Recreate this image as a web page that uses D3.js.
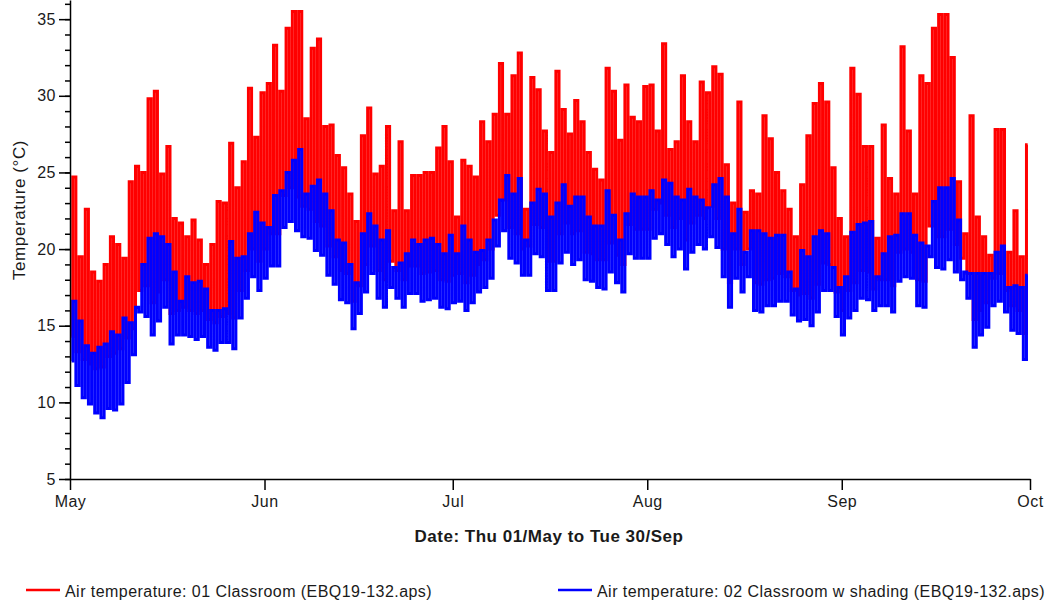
<!DOCTYPE html>
<html>
<head>
<meta charset="utf-8">
<script src="https://cdn.jsdelivr.net/npm/d3@7"></script>
<style>
  body { margin: 0; background: #fff; }
  svg { display: block; font-family: "Liberation Sans", Arial, sans-serif; }
  .axis text { font-size: 16px; fill: #1a1a1a; letter-spacing: 0.5px; }
  .axis path, .axis line { stroke: #000; stroke-width: 1.5; }
</style>
</head>
<body>
<svg id="chart" width="1049" height="602"></svg>
<script>
// daily extremes, 01/May .. 30/Sep (one value per day)
var redMax = [
  24.7,19.5,22.6,18.5,17.9,19.0,20.8,20.3,19.4,24.4,25.4,25.0,29.8,30.3,24.9,26.7,22.0,21.7,20.8,21.9,20.6,19.0,20.3,23.1,23.0,26.9,24.0,25.7,30.5,27.3,30.2,
  30.8,33.3,30.3,34.4,35.5,35.5,28.5,33.1,33.7,28.0,28.1,26.1,25.3,23.6,21.8,27.4,29.2,24.9,25.4,28.0,22.5,27.0,22.5,24.8,24.8,25.0,25.0,26.6,28.0,25.7,
  22.1,25.8,25.4,24.7,28.3,27.0,28.8,32.1,28.8,31.3,32.8,22.6,31.2,30.4,27.7,26.3,31.6,29.1,27.5,29.7,28.3,26.3,25.2,24.5,31.8,30.3,27.1,30.7,28.6,28.3,30.6,
  30.7,27.7,33.4,26.5,27.0,31.3,28.3,27.0,30.9,30.2,31.9,31.4,25.5,23.0,29.6,22.4,23.8,23.6,28.7,27.2,25.0,23.8,22.6,20.8,24.2,27.4,29.5,30.8,29.6,25.3,22.0,
  20.8,31.8,30.1,26.7,26.7,20.7,28.1,24.6,23.6,33.2,27.7,23.6,31.3,30.8,34.4,35.3,35.3,32.5,24.4,21.0,28.7,22.1,20.8,19.6,27.8,27.8,19.8,22.5,19.5,26.8
];
var redMin = [
  14.3,13.3,12.8,12.5,12.2,12.3,13.0,13.2,13.5,14.2,14.8,17.3,17.6,16.5,17.2,18.0,15.8,16.0,16.2,16.0,15.8,16.0,15.4,15.2,15.6,15.8,15.5,17.3,18.6,20.0,19.2,
  20.0,21.0,21.0,23.5,24.0,23.4,22.8,22.6,21.8,21.5,20.2,19.5,18.6,18.4,16.6,17.6,19.0,20.2,18.6,18.0,19.2,18.6,18.0,18.9,18.9,18.4,18.5,18.6,18.0,17.9,
  18.3,18.4,17.8,18.3,19.0,19.3,20.0,22.2,23.2,21.4,21.0,20.0,20.2,21.6,21.4,19.2,19.2,21.0,21.7,21.0,21.2,19.8,19.7,19.3,19.3,20.4,19.6,19.0,21.6,21.3,21.3,
  21.3,22.6,23.0,22.2,21.4,22.0,20.6,21.7,22.2,22.0,22.8,22.0,20.0,17.8,20.0,19.0,20.0,17.8,17.7,18.0,18.1,18.4,18.2,17.3,17.0,17.1,16.8,17.7,19.1,19.0,17.2,
  16.0,17.3,17.8,18.6,18.5,17.4,18.0,18.0,17.6,19.8,20.0,19.8,18.0,17.9,21.5,20.8,20.8,21.3,20.3,19.4,18.4,15.4,16.0,16.5,18.1,18.4,17.3,16.3,16.0,14.5
];
var blueMax = [
  16.6,15.3,13.7,13.2,13.6,13.8,14.6,14.4,15.5,15.2,16.2,19.0,20.7,21.0,20.8,20.3,18.5,16.6,18.2,17.8,17.9,17.4,16.0,16.0,16.1,20.5,19.4,19.5,21.0,22.4,21.7,
  21.4,23.5,23.8,25.0,25.8,26.5,23.6,24.1,24.5,23.6,22.5,20.6,20.4,19.0,17.8,21.0,22.3,21.5,20.6,21.2,18.8,19.1,19.7,20.6,20.3,20.6,20.7,20.3,19.7,20.9,
  19.7,21.5,20.6,19.8,19.9,20.6,21.9,23.2,24.8,23.6,24.6,20.6,23.0,23.9,23.6,22.1,23.0,24.2,22.8,23.4,23.4,22.1,21.5,21.5,23.8,22.2,20.6,22.3,23.6,23.4,23.4,
  23.8,23.2,24.5,24.3,23.4,23.2,23.9,23.4,23.2,22.7,24.2,24.6,23.4,21.0,22.6,19.8,21.2,21.2,21.0,20.7,20.9,20.9,18.5,17.4,19.9,19.5,20.8,21.2,21.0,18.8,17.5,
  18.2,21.1,21.6,21.7,21.8,18.2,19.7,20.8,20.9,22.3,22.3,20.9,20.4,20.2,23.1,24.0,24.0,24.6,21.9,18.5,18.4,18.4,18.4,18.4,19.8,20.2,17.5,17.6,17.5,18.3
];
var blueMin = [
  12.7,11.1,10.3,9.9,9.3,9.0,9.6,9.5,9.9,11.3,13.1,15.9,15.6,14.4,15.3,16.2,13.8,14.4,14.4,14.3,14.1,14.3,13.6,13.4,13.9,13.9,13.5,15.5,16.8,18.2,17.3,
  18.1,18.9,18.9,21.4,21.8,21.2,20.8,20.7,19.9,19.6,18.3,17.7,16.7,16.5,14.8,15.8,17.2,18.4,16.8,16.2,17.5,16.8,16.2,17.1,17.1,16.6,16.7,16.8,16.2,16.1,
  16.5,16.6,16.0,16.5,17.2,17.5,18.1,20.2,21.2,19.4,19.1,18.3,18.3,19.7,19.5,17.3,17.3,19.1,19.8,19.0,19.3,18.0,17.9,17.5,17.4,18.5,17.8,17.2,19.7,19.4,19.4,
  19.4,20.7,21.0,20.3,19.5,20.0,18.7,19.8,20.3,20.0,20.8,20.1,18.2,16.2,18.1,17.2,18.2,16.0,15.9,16.3,16.3,16.6,16.6,15.7,15.3,15.4,15.0,15.9,17.3,17.3,15.6,
  14.4,15.5,16.0,16.8,16.7,16.0,16.3,16.3,15.9,17.9,18.2,18.1,16.3,16.2,19.5,18.8,18.7,19.3,18.5,18.0,16.8,13.6,14.4,14.9,16.3,16.6,15.9,14.7,14.5,12.8
];
var majorTicks = [5, 10, 15, 20, 25, 30, 35];
var seriesNames = ["Air temperature: 01 Classroom (EBQ19-132.aps)", "Air temperature: 02 Classroom w shading (EBQ19-132.aps)"];
var seriesColors = ["#ff0000", "#0000ff"];

var HOUR = 3600000, DAY = 86400000;
var start = Date.UTC(2014, 4, 1), end = Date.UTC(2014, 9, 1);

var svg = d3.select("#chart");

var x = d3.scaleUtc().domain([start, end]).range([70, 1030]);
var y = d3.scaleLinear().domain([5, 36.25]).range([479, 0]);

// each day: low in the early morning, peak mid afternoon
function dailyPoints(mins, maxs) {
  var pts = [];
  for (var i = 0; i < mins.length; i++) {
    pts.push({t: start + i*DAY + 6*HOUR, v: mins[i]});
    pts.push({t: start + i*DAY + 15*HOUR, v: maxs[i]});
  }
  return pts;
}

// hourly values squeezed into ~6px per day read as steps
var line = d3.line()
  .curve(d3.curveStep)
  .x(function(d){ return x(d.t); })
  .y(function(d){ return y(d.v); });

svg.append("path")
  .datum(dailyPoints(redMin, redMax))
  .attr("d", line)
  .attr("fill", "none")
  .attr("stroke", seriesColors[0])
  .attr("stroke-width", 3);

svg.append("path")
  .datum(dailyPoints(blueMin, blueMax))
  .attr("d", line)
  .attr("fill", "none")
  .attr("stroke", seriesColors[1])
  .attr("stroke-width", 3);

// y axis: minor ticks each degree, labelled ticks each 5
svg.append("g")
  .attr("class", "axis")
  .attr("transform", "translate(70,0)")
  .call(d3.axisLeft(y).tickValues(d3.range(5, 37)).tickSize(5).tickSizeOuter(0).tickFormat(""));

svg.append("g")
  .attr("class", "axis")
  .attr("transform", "translate(70,0)")
  .call(d3.axisLeft(y).tickValues(majorTicks).tickSize(11).tickSizeOuter(0).tickPadding(3))
  .select(".domain").remove();

svg.append("g")
  .attr("class", "axis")
  .attr("transform", "translate(0,479)")
  .call(d3.axisBottom(x).ticks(d3.utcMonth.every(1)).tickFormat(d3.utcFormat("%b")).tickSize(11).tickSizeOuter(0).tickPadding(6));

svg.append("text")
  .attr("transform", "translate(25,210) rotate(-90)")
  .attr("text-anchor", "middle")
  .style("font-size", "17px")
  .style("letter-spacing", "0.6px")
  .attr("fill", "#1a1a1a")
  .text("Temperature (°C)");

svg.append("text")
  .attr("x", 549)
  .attr("y", 542)
  .attr("text-anchor", "middle")
  .style("font-size", "17px")
  .style("font-weight", "bold")
  .style("letter-spacing", "0.5px")
  .attr("fill", "#1a1a1a")
  .text("Date: Thu 01/May to Tue 30/Sep");

// legend
var legendX = [26, 558];
var legend = svg.selectAll("g.legend").data(seriesNames).enter()
  .append("g")
  .attr("class", "legend")
  .attr("transform", function(d, i){ return "translate(" + legendX[i] + ",590)"; });
legend.append("line")
  .attr("x1", 0).attr("x2", 34)
  .attr("stroke", function(d, i){ return seriesColors[i]; })
  .attr("stroke-width", 2.5);
legend.append("text")
  .attr("x", 39)
  .attr("y", 7)
  .style("font-size", "16px")
  .style("letter-spacing", "0.45px")
  .attr("fill", "#1a1a1a")
  .text(function(d){ return d; });
</script>
</body>
</html>
